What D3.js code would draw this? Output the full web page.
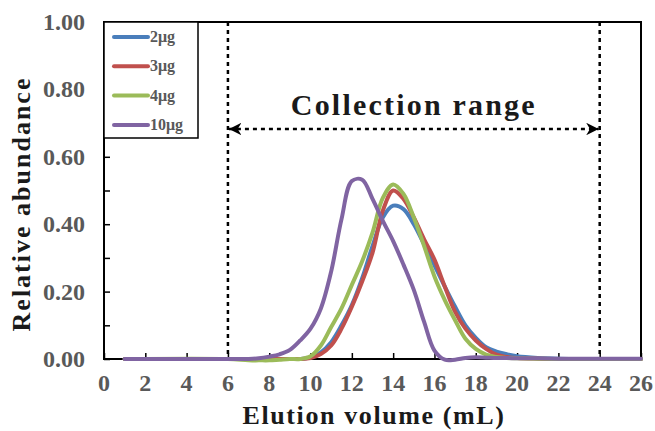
<!DOCTYPE html>
<html>
<head>
<meta charset="utf-8">
<script src="https://cdn.jsdelivr.net/npm/d3@7"></script>
<style>
  body { margin: 0; background: #fff; }
  text { font-family: "Liberation Serif", "Times New Roman", serif; font-weight: bold; }
</style>
</head>
<body>
<script>
// elution volume (mL) sample points, shared by every series
var volume = [1, 6, 7, 7.5, 8, 8.5, 9, 9.5, 10, 10.5, 11, 11.5, 12, 12.5, 13, 13.5, 14, 14.5,
              15, 15.5, 16, 16.5, 17, 17.5, 18, 18.5, 19, 19.5, 20, 21, 22, 24, 26];

var ug2  = [0, 0, 0, 0, 0, 0, 0, 0, 0.005, 0.02, 0.05, 0.1, 0.16, 0.24, 0.335, 0.42, 0.455, 0.445,
            0.4, 0.34, 0.278, 0.215, 0.155, 0.1, 0.063, 0.035, 0.022, 0.014, 0.008, 0.003, 0.001, 0, 0];
var ug3  = [0, 0, 0, 0, 0, 0, 0, 0, 0.003, 0.015, 0.04, 0.09, 0.155, 0.23, 0.315, 0.44, 0.5, 0.475,
            0.42, 0.355, 0.295, 0.215, 0.14, 0.09, 0.055, 0.03, 0.013, 0.006, 0.003, 0.001, 0, 0, 0];
var ug4  = [0, 0, -0.004, -0.004, -0.004, -0.002, 0, 0, 0.008, 0.04, 0.095, 0.15, 0.22, 0.29, 0.375, 0.478, 0.518, 0.49,
            0.42, 0.335, 0.245, 0.175, 0.115, 0.06, 0.03, 0.013, 0.006, 0.003, 0.002, 0.001, 0, 0, 0];
var ug10 = [0, 0, 0, 0.002, 0.007, 0.014, 0.027, 0.055, 0.09, 0.15, 0.26, 0.415, 0.528, 0.532, 0.475, 0.41, 0.35, 0.28,
            0.205, 0.11, 0.025, -0.002, -0.002, 0.003, 0.005, 0.004, 0.003, 0.003, 0.002, 0.002, 0.001, 0.001, 0.001];

var seriesNames  = ["2\u03bcg", "3\u03bcg", "4\u03bcg", "10\u03bcg"];
var seriesValues = [ug2, ug3, ug4, ug10];
var colors = ["#4a7ebb", "#c0504d", "#9bbb59", "#8064a2"];

var xTicks = d3.range(0, 27, 2);
var yTicks = [0, 0.2, 0.4, 0.6, 0.8, 1.0];
var rangeStart = 6, rangeEnd = 24;

var width = 655, height = 431;
var margin = {top: 22, right: 14, bottom: 72, left: 104};

var svg = d3.select("body").append("svg")
  .attr("width", width)
  .attr("height", height);

var x = d3.scaleLinear().domain([0, 26]).range([margin.left, width - margin.right]);
var y = d3.scaleLinear().domain([0, 1]).range([height - margin.bottom, margin.top]);

// frame
svg.append("rect")
  .attr("x", x(0)).attr("y", y(1))
  .attr("width", x(26) - x(0)).attr("height", y(0) - y(1))
  .attr("fill", "none").attr("stroke", "#000").attr("stroke-width", 2);

// inward ticks
svg.append("g")
  .attr("transform", "translate(0," + y(0) + ")")
  .call(d3.axisBottom(x).tickValues(xTicks).tickSizeInner(-6).tickSizeOuter(0).tickFormat(""))
  .call(function(g) { g.select(".domain").remove(); })
  .selectAll("line").attr("stroke", "#000").attr("stroke-width", 1.5);

svg.append("g")
  .attr("transform", "translate(" + x(0) + ",0)")
  .call(d3.axisLeft(y).tickValues(d3.range(0, 1.01, 0.1)).tickSizeInner(-6).tickSizeOuter(0).tickFormat(""))
  .call(function(g) { g.select(".domain").remove(); })
  .selectAll("line").attr("stroke", "#000").attr("stroke-width", 1.5);

// tick labels
svg.append("g").selectAll("text")
  .data(xTicks).enter().append("text")
  .attr("x", function(d) { return x(d); })
  .attr("y", 391)
  .attr("text-anchor", "middle")
  .attr("fill", "#595959")
  .style("font-size", "24px")
  .text(function(d) { return d; });

svg.append("g").selectAll("text")
  .data(yTicks).enter().append("text")
  .attr("x", x(0) - 19)
  .attr("y", function(d) { return y(d) + 8; })
  .attr("text-anchor", "end")
  .attr("fill", "#595959")
  .style("font-size", "24px")
  .text(function(d) { return d.toFixed(2); });

// axis titles
svg.append("text")
  .attr("x", 374)
  .attr("y", 424)
  .attr("text-anchor", "middle")
  .attr("fill", "#1a1a1a")
  .attr("letter-spacing", 1.6)
  .style("font-size", "26px")
  .text("Elution volume (mL)");

svg.append("text")
  .attr("transform", "translate(30,204) rotate(-90)")
  .attr("text-anchor", "middle")
  .attr("fill", "#1a1a1a")
  .attr("letter-spacing", 2)
  .style("font-size", "26px")
  .text("Relative abundance");

// collection range markers
svg.selectAll(".range-line")
  .data([rangeStart, rangeEnd]).enter().append("line")
  .attr("x1", function(d) { return x(d); })
  .attr("x2", function(d) { return x(d); })
  .attr("y1", y(1)).attr("y2", y(0))
  .attr("stroke", "#000").attr("stroke-width", 2.5)
  .attr("stroke-dasharray", "4,4");

var defs = svg.append("defs");
defs.append("marker")
  .attr("id", "arrow")
  .attr("viewBox", "0 0 10 10")
  .attr("refX", 10).attr("refY", 5)
  .attr("markerWidth", 5).attr("markerHeight", 5)
  .attr("orient", "auto-start-reverse")
  .attr("markerUnits", "strokeWidth")
  .append("path")
  .attr("d", "M0,0L10,5L0,10L3,5Z")
  .attr("fill", "#000");

svg.append("line")
  .attr("x1", x(rangeStart) + 1).attr("x2", x(rangeEnd) - 1)
  .attr("y1", 129).attr("y2", 129)
  .attr("stroke", "#000").attr("stroke-width", 2.5)
  .attr("stroke-dasharray", "4,4")
  .attr("marker-start", "url(#arrow)")
  .attr("marker-end", "url(#arrow)");

svg.append("text")
  .attr("x", (x(rangeStart) + x(rangeEnd)) / 2)
  .attr("y", 115)
  .attr("text-anchor", "middle")
  .attr("fill", "#1a1a1a")
  .attr("letter-spacing", 2.2)
  .style("font-size", "30px")
  .text("Collection range");

// curves
var line = d3.line()
  .x(function(d, i) { return x(volume[i]); })
  .y(function(d) { return y(d); })
  .curve(d3.curveCatmullRom.alpha(0.5));

svg.append("g").selectAll("path")
  .data(seriesValues).enter().append("path")
  .attr("d", line)
  .attr("fill", "none")
  .attr("stroke", function(d, i) { return colors[i]; })
  .attr("stroke-width", 4)
  .attr("stroke-linejoin", "round")
  .attr("stroke-linecap", "round");

// legend
var lg = svg.append("g");
lg.append("rect")
  .attr("x", x(0)).attr("y", y(1))
  .attr("width", 94).attr("height", 116)
  .attr("fill", "#fff").attr("stroke", "#000").attr("stroke-width", 1.5);

var item = lg.selectAll(".item")
  .data(seriesNames).enter().append("g")
  .attr("transform", function(d, i) { return "translate(" + (x(0) + 10) + "," + (y(1) + 15 + i * 29.3) + ")"; });

item.append("line")
  .attr("x1", 0).attr("x2", 34)
  .attr("stroke", function(d, i) { return colors[i]; })
  .attr("stroke-width", 4)
  .attr("stroke-linecap", "round");

item.append("text")
  .attr("x", 36).attr("y", 5)
  .attr("fill", "#595959")
  .style("font-size", "16px")
  .text(function(d) { return d; });
</script>
</body>
</html>
